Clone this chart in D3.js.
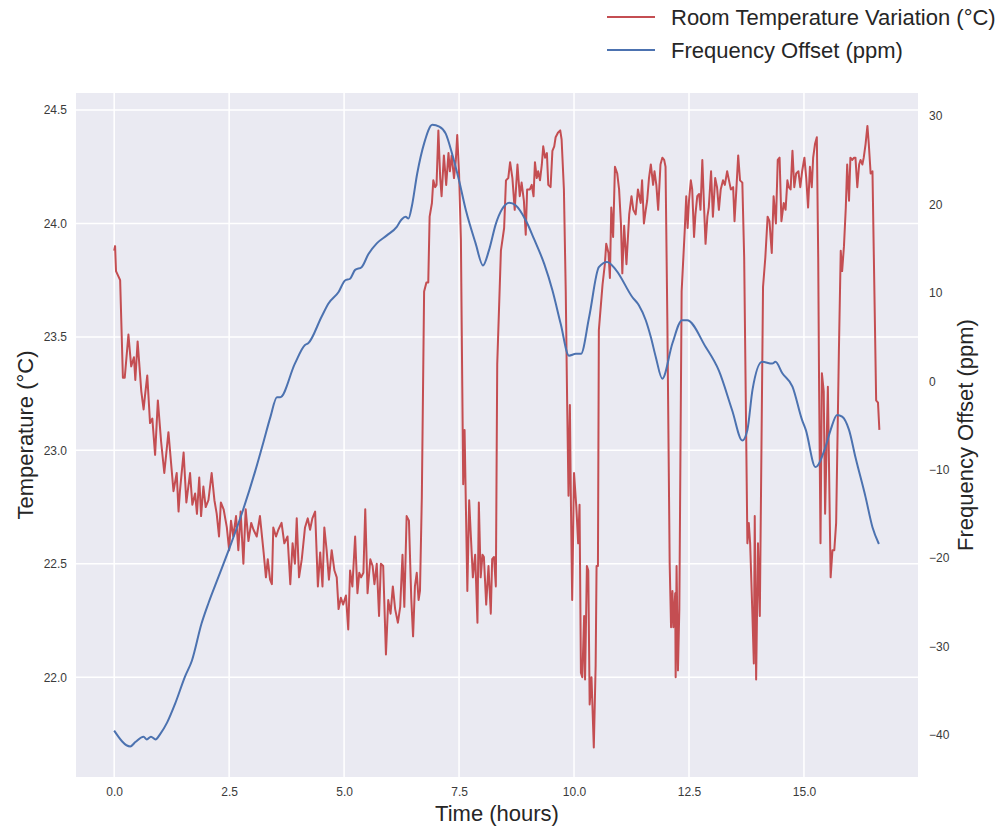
<!DOCTYPE html>
<html>
<head>
<meta charset="utf-8">
<script src="https://cdn.jsdelivr.net/npm/d3@7"></script>
<style>
  html, body { margin: 0; padding: 0; background: #ffffff; }
  svg { display: block; font-family: "Liberation Sans", Arial, "DejaVu Sans", sans-serif; }
</style>
</head>
<body>
<svg id="chart" width="1007" height="827"></svg>
<script>
// Room temperature log (hours, °C)
const tempHours = [
  0.00, 0.02, 0.04, 0.13, 0.19, 0.23, 0.31, 0.37, 0.43, 0.46, 0.51, 0.59, 0.64, 0.67, 0.72, 0.78, 0.83, 0.89, 0.95,
  1.02, 1.09, 1.18, 1.29, 1.36, 1.40, 1.43, 1.51, 1.57, 1.65, 1.70, 1.76, 1.80, 1.85, 1.89, 1.94, 1.99,
  2.05, 2.12, 2.18, 2.23, 2.28, 2.32, 2.38, 2.45, 2.50, 2.54, 2.59, 2.65, 2.70, 2.75, 2.81, 2.86, 2.92, 2.98,
  3.03, 3.10, 3.17, 3.25, 3.30, 3.34, 3.39, 3.43, 3.46, 3.52, 3.57, 3.64, 3.70, 3.77, 3.83, 3.88, 3.93, 3.97,
  4.02, 4.08, 4.15, 4.21, 4.26, 4.31, 4.37, 4.43, 4.48, 4.53, 4.57, 4.62, 4.67, 4.73, 4.79, 4.84, 4.88, 4.93, 4.98,
  5.04, 5.09, 5.13, 5.18, 5.24, 5.29, 5.33, 5.37, 5.42, 5.46, 5.51, 5.57, 5.62, 5.66, 5.71, 5.76, 5.80, 5.85, 5.91, 5.96,
  6.01, 6.06, 6.11, 6.17, 6.22, 6.27, 6.31, 6.36, 6.41, 6.46, 6.50, 6.54, 6.58, 6.62, 6.65, 6.69, 6.74, 6.79, 6.83, 6.86, 6.91, 6.94, 6.98,
  7.01, 7.05, 7.09, 7.12, 7.17, 7.22, 7.27, 7.30, 7.34, 7.39, 7.43, 7.46, 7.50, 7.54, 7.57, 7.59, 7.62, 7.68, 7.72, 7.75, 7.80, 7.85, 7.90, 7.93, 7.97,
  8.01, 8.04, 8.09, 8.14, 8.19, 8.22, 8.26, 8.30, 8.33, 8.41, 8.48, 8.52, 8.57, 8.61, 8.66, 8.71, 8.77, 8.82, 8.86, 8.91, 8.95, 8.98,
  9.04, 9.08, 9.12, 9.15, 9.19, 9.22, 9.26, 9.30, 9.33, 9.37, 9.41, 9.44, 9.49, 9.53, 9.57, 9.60, 9.65, 9.70, 9.73, 9.78, 9.82, 9.85, 9.88, 9.91, 9.93, 9.96,
  10.00, 10.05, 10.09, 10.12, 10.15, 10.18, 10.22, 10.24, 10.28, 10.31, 10.34, 10.38, 10.43, 10.47, 10.49, 10.52, 10.54, 10.62, 10.67, 10.70, 10.75, 10.78, 10.81, 10.85, 10.89, 10.94, 10.98,
  11.02, 11.05, 11.09, 11.14, 11.20, 11.25, 11.29, 11.34, 11.39, 11.45, 11.48, 11.52, 11.56, 11.59, 11.63, 11.67, 11.72, 11.75, 11.79, 11.83, 11.88, 11.92, 11.96, 11.99,
  12.03, 12.08, 12.11, 12.14, 12.16, 12.20, 12.21, 12.23, 12.26, 12.29, 12.34, 12.37, 12.41, 12.44, 12.47, 12.50, 12.54, 12.57, 12.61, 12.64, 12.68, 12.72, 12.75, 12.79, 12.83, 12.86, 12.90, 12.93, 12.98,
  13.02, 13.07, 13.11, 13.15, 13.19, 13.24, 13.28, 13.33, 13.37, 13.41, 13.46, 13.49, 13.53, 13.57, 13.61, 13.66, 13.70, 13.77, 13.80, 13.83, 13.88, 13.91, 13.93, 13.96,
  14.00, 14.04, 14.11, 14.16, 14.21, 14.25, 14.30, 14.34, 14.39, 14.43, 14.47, 14.51, 14.56, 14.60, 14.64, 14.67, 14.71, 14.75, 14.79, 14.83, 14.88, 14.92, 14.96,
  15.01, 15.05, 15.09, 15.13, 15.17, 15.20, 15.24, 15.28, 15.31, 15.33, 15.36, 15.39, 15.43, 15.46, 15.52, 15.58, 15.62, 15.66, 15.70, 15.76, 15.80, 15.83, 15.87, 15.91, 15.94, 15.98,
  16.01, 16.05, 16.09, 16.12, 16.16, 16.20, 16.23, 16.27, 16.30, 16.34, 16.38, 16.41, 16.45, 16.49, 16.52, 16.57, 16.61, 16.64
];
const tempValues = [
  23.88, 23.90, 23.79, 23.75, 23.32, 23.32, 23.51, 23.37, 23.41, 23.31, 23.48, 23.26, 23.18, 23.24, 23.33, 23.12, 23.14, 22.98, 23.22,
  23.04, 22.90, 23.08, 22.82, 22.90, 22.73, 22.82, 22.99, 22.77, 22.90, 22.76, 22.81, 22.72, 22.88, 22.71, 22.84, 22.75,
  22.78, 22.90, 22.78, 22.72, 22.62, 22.77, 22.74, 22.66, 22.56, 22.69, 22.62, 22.71, 22.56, 22.73, 22.50, 22.74, 22.60, 22.68,
  22.65, 22.62, 22.71, 22.55, 22.44, 22.52, 22.43, 22.41, 22.66, 22.62, 22.65, 22.68, 22.59, 22.62, 22.41, 22.59, 22.50, 22.70,
  22.44, 22.52, 22.66, 22.70, 22.65, 22.70, 22.73, 22.40, 22.55, 22.40, 22.66, 22.56, 22.43, 22.56, 22.47, 22.44, 22.30, 22.35, 22.32,
  22.36, 22.21, 22.47, 22.40, 22.62, 22.37, 22.46, 22.44, 22.46, 22.74, 22.37, 22.52, 22.49, 22.41, 22.50, 22.27, 22.50, 22.49, 22.10, 22.34,
  22.28, 22.40, 22.30, 22.24, 22.31, 22.54, 22.31, 22.71, 22.69, 22.35, 22.18, 22.40, 22.46, 22.34, 22.38, 22.79, 23.70, 23.74, 23.74, 24.03, 24.09, 24.19, 24.16,
  24.17, 24.41, 24.20, 24.12, 24.30, 24.17, 24.31, 24.23, 24.30, 24.20, 24.28, 24.39, 24.22, 23.93, 23.28, 22.85, 23.09, 22.38, 22.78, 22.65, 22.44, 22.54, 22.24, 22.77, 22.44,
  22.54, 22.53, 22.32, 22.49, 22.28, 22.52, 22.53, 22.40, 23.38, 23.88, 23.98, 24.19, 24.20, 24.27, 24.20, 24.06, 24.26, 24.12, 24.18, 24.10, 23.95, 24.15,
  24.15, 24.17, 24.12, 24.27, 24.20, 24.23, 24.19, 24.26, 24.34, 24.29, 24.31, 24.17, 24.16, 24.32, 24.34, 24.38, 24.40, 24.41, 24.37, 24.15, 23.70, 23.22, 22.80, 23.20, 22.81, 22.34,
  22.90, 22.75, 22.59, 22.76, 22.02, 22.00, 22.27, 21.99, 22.49, 22.47, 21.88, 22.00, 21.69, 22.05, 22.49, 22.49, 23.53, 23.73, 23.82, 23.91, 23.87, 23.76, 24.07, 23.94, 24.25, 24.22, 24.15,
  24.00, 23.78, 23.99, 23.82, 24.04, 24.12, 24.06, 24.04, 24.15, 24.09, 24.19, 24.00, 24.06, 24.10, 24.20, 24.26, 24.17, 24.23, 24.17, 24.06, 24.26, 24.29, 24.28, 24.25,
  23.56, 22.50, 22.22, 22.38, 22.22, 22.37, 22.00, 22.49, 22.03, 22.30, 23.70, 23.82, 23.98, 24.12, 23.98, 24.10, 24.19, 24.15, 23.94, 24.04, 24.12, 24.13, 24.06, 24.28, 24.06, 23.91, 24.03, 24.07, 24.23,
  24.03, 24.20, 24.16, 24.06, 24.15, 24.19, 24.17, 24.23, 24.19, 24.15, 24.16, 24.01, 24.15, 24.30, 24.19, 24.18, 23.85, 22.59, 22.68, 22.59, 22.27, 22.06, 22.71, 21.99,
  22.59, 22.27, 23.72, 23.85, 24.03, 24.01, 23.87, 24.12, 24.00, 24.28, 24.29, 24.01, 24.09, 24.06, 24.19, 24.16, 24.15, 24.32, 24.16, 24.22, 24.23, 24.16, 24.23,
  24.29, 24.20, 24.07, 24.25, 24.16, 24.29, 24.35, 24.38, 23.85, 23.26, 22.59, 23.34, 23.26, 22.72, 23.28, 22.44, 22.56, 22.56, 22.68, 23.44, 23.88, 23.79, 23.90, 24.07, 24.26, 24.10,
  24.29, 24.28, 24.29, 24.29, 24.16, 24.26, 24.28, 24.26, 24.29, 24.35, 24.43, 24.35, 24.22, 24.23, 23.85, 23.22, 23.21, 23.09
];

// Oscillator frequency offset (hours, ppm)
const freqHours = [
  0.00, 0.35, 0.46, 0.64, 0.71, 0.80, 0.90, 1.00, 1.15, 1.33, 1.54, 1.69, 1.90, 2.05, 2.27, 2.49, 2.78,
  3.07, 3.25, 3.40, 3.54, 3.61, 3.93, 4.15, 4.22, 4.51, 4.66, 4.88, 5.02, 5.13, 5.24, 5.38, 5.53, 5.71, 5.93,
  6.15, 6.25, 6.34, 6.40, 6.47, 6.59, 6.74, 6.92, 7.07, 7.21, 7.35, 7.50, 7.65, 7.86, 8.02, 8.15, 8.30, 8.44,
  8.59, 8.73, 8.95, 9.13, 9.35, 9.53, 9.71, 9.89, 10.04, 10.15, 10.33, 10.54, 10.72, 10.91, 11.27, 11.41, 11.56,
  11.67, 11.78, 11.92, 12.14, 12.35, 12.46, 12.86, 13.15, 13.44, 13.66, 13.77, 13.88, 14.09, 14.31, 14.38, 14.53,
  14.75, 14.96, 15.04, 15.25, 15.47, 15.58, 15.72, 15.83, 15.98, 16.12, 16.34, 16.49, 16.63
];
const freqValues = [
  -39.5, -41.3, -40.8, -40.2, -40.5, -40.2, -40.5, -39.9, -38.6, -36.4, -33.4, -31.6, -27.4, -25.1, -22.1, -19.1, -14.9,
  -10.1, -6.8, -4.0, -1.8, -1.8, 2.0, 4.1, 4.3, 7.3, 8.8, 10.1, 11.4, 11.6, 12.6, 12.9, 14.4, 15.6, 16.5,
  17.5, 18.3, 18.6, 18.4, 19.7, 23.5, 26.9, 29.0, 28.8, 28.0, 25.7, 22.7, 19.3, 15.6, 13.1, 14.8, 17.8, 19.5,
  20.2, 19.9, 18.2, 16.1, 13.3, 10.3, 6.5, 2.9, 3.1, 3.1, 7.3, 12.9, 13.5, 12.6, 9.5, 8.6, 6.9,
  5.0, 2.7, 0.3, 4.3, 6.9, 6.9, 3.9, 1.2, -3.3, -6.7, -5.5, -1.0, 2.2, 2.0, 2.2, 0.9,
  -0.6, -4.4, -5.5, -9.7, -7.4, -5.5, -3.8, -4.0, -5.5, -8.6, -13.1, -16.5, -18.4
];

const xTicks = [0, 2.5, 5, 7.5, 10, 12.5, 15];
const tempTicks = [22.0, 22.5, 23.0, 23.5, 24.0, 24.5];
const freqTicks = [-40, -30, -20, -10, 0, 10, 20, 30];

const seriesNames = ["Room Temperature Variation (°C)", "Frequency Offset (ppm)"];
const seriesColors = ["#c44e52", "#4c72b0"];

// Layout
const plot = { left: 76, right: 918, top: 93, bottom: 777 };
const svg = d3.select("#chart");

const x = d3.scaleLinear().domain([-0.83, 17.48]).range([plot.left, plot.right]);
const yT = d3.scaleLinear().domain([21.56, 24.575]).range([plot.bottom, plot.top]);
const yF = d3.scaleLinear().domain([-44.75, 32.6]).range([plot.bottom, plot.top]);

// Plot background
svg.append("rect")
  .attr("x", plot.left).attr("y", plot.top)
  .attr("width", plot.right - plot.left).attr("height", plot.bottom - plot.top)
  .attr("fill", "#eaeaf2");

// Grid lines
const grid = svg.append("g").attr("stroke", "#ffffff").attr("stroke-width", 1.5);
grid.selectAll("line.v").data(xTicks).join("line").attr("class", "v")
  .attr("x1", d => x(d)).attr("x2", d => x(d))
  .attr("y1", plot.top).attr("y2", plot.bottom);
grid.selectAll("line.h").data(tempTicks).join("line").attr("class", "h")
  .attr("x1", plot.left).attr("x2", plot.right)
  .attr("y1", d => yT(d)).attr("y2", d => yT(d));

// Axes (no spines, no tick marks, only labels)
const tickFont = "12px";
const tickColor = "#3a3a3a";

const xAxis = svg.append("g").attr("transform", `translate(0,${plot.bottom})`)
  .call(d3.axisBottom(x).tickValues(xTicks).tickFormat(d3.format(".1f")).tickSize(0).tickPadding(10));
const yAxisL = svg.append("g").attr("transform", `translate(${plot.left},0)`)
  .call(d3.axisLeft(yT).tickValues(tempTicks).tickFormat(d3.format(".1f")).tickSize(0).tickPadding(9));
const yAxisR = svg.append("g").attr("transform", `translate(${plot.right},0)`)
  .call(d3.axisRight(yF).tickValues(freqTicks).tickFormat(d3.format("d")).tickSize(0).tickPadding(11));

[xAxis, yAxisL, yAxisR].forEach(g => {
  g.select(".domain").remove();
  g.selectAll("text").attr("fill", tickColor).style("font-size", tickFont)
    .style("font-family", '"Liberation Sans", Arial, sans-serif');
});

// Series lines
svg.append("clipPath").attr("id", "plotClip").append("rect")
  .attr("x", plot.left).attr("y", plot.top)
  .attr("width", plot.right - plot.left).attr("height", plot.bottom - plot.top);

const tempLine = d3.line().x((d, i) => x(tempHours[i])).y(d => yT(d));
const freqLine = d3.line().x((d, i) => x(freqHours[i])).y(d => yF(d)).curve(d3.curveMonotoneX);

svg.append("path")
  .attr("clip-path", "url(#plotClip)")
  .attr("d", tempLine(tempValues))
  .attr("fill", "none").attr("stroke", seriesColors[0])
  .attr("stroke-width", 2).attr("stroke-linejoin", "round");

svg.append("path")
  .attr("clip-path", "url(#plotClip)")
  .attr("d", freqLine(freqValues))
  .attr("fill", "none").attr("stroke", seriesColors[1])
  .attr("stroke-width", 2).attr("stroke-linejoin", "round");

// Axis titles
const labelColor = "#262626";
svg.append("text")
  .attr("x", (plot.left + plot.right) / 2).attr("y", 821)
  .attr("text-anchor", "middle").attr("fill", labelColor)
  .style("font-size", "22px").text("Time (hours)");

svg.append("text")
  .attr("transform", `translate(33,${(plot.top + plot.bottom) / 2}) rotate(-90)`)
  .attr("text-anchor", "middle").attr("fill", labelColor)
  .style("font-size", "22px").text("Temperature (°C)");

svg.append("text")
  .attr("transform", `translate(973,${(plot.top + plot.bottom) / 2}) rotate(-90)`)
  .attr("text-anchor", "middle").attr("fill", labelColor)
  .style("font-size", "22px").text("Frequency Offset (ppm)");

// Legend
const legend = svg.append("g");
seriesNames.forEach((name, i) => {
  const cy = 17 + i * 33;
  legend.append("line")
    .attr("x1", 607).attr("x2", 655).attr("y1", cy).attr("y2", cy)
    .attr("stroke", seriesColors[i]).attr("stroke-width", 2);
  legend.append("text")
    .attr("x", 671).attr("y", cy).attr("dy", "0.35em")
    .attr("fill", labelColor).style("font-size", "22px").text(name);
});
</script>
</body>
</html>
